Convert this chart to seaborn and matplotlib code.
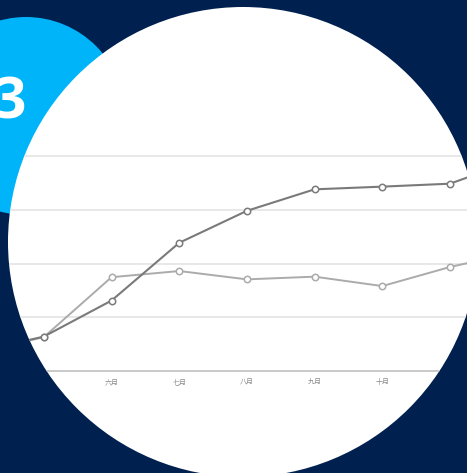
import matplotlib
matplotlib.use("Agg")
import matplotlib.pyplot as plt
from matplotlib.patches import Circle
import seaborn as sns
import pandas as pd

# ---- data ----
months = ["四月", "五月", "六月", "七月", "八月", "九月", "十月", "十一月", "十二月"]
series_dark = [7.1, 12.8, 26.2, 47.7, 59.6, 67.6, 68.6, 69.7, 78.7]
series_light = [6.7, 12.6, 34.9, 37.2, 34.1, 35.1, 31.6, 38.7, 44.3]
y_ticks = [0, 20, 40, 60, 80]
badge_text = "3"

NAVY = "#00204F"
BLUE = "#00B4FA"
DARK = "#7a7a7a"
LIGHT = "#ababab"

W, H = 467, 473
CX, CY, R = 243, 242, 235
fig = plt.figure(figsize=(W / 100, H / 100), dpi=100)
fig.patch.set_facecolor(NAVY)

def px_circle(cx, cy, r, **kw):
    # pixel coords from top-left
    return Circle((cx / 100, (H - cy) / 100), r / 100,
                  transform=fig.dpi_scale_trans, **kw)

blue = px_circle(26, 116, 99, facecolor=BLUE, edgecolor="none", zorder=0)
fig.patches.append(blue)
fig.text(10.5 / W, (H - 118) / H, badge_text, ha="center", va="baseline",
         fontsize=41, fontweight="bold", color="white", family=["Open Sans", "DejaVu Sans"])

white = px_circle(CX, CY, R, facecolor="white", edgecolor="none", zorder=1)
fig.patches.append(white)
clip = px_circle(CX, CY, R, facecolor="none", edgecolor="none")
clip.set_figure(fig)

# axes placed in pixel space
bottom_px, top_px = 371, 156
ax = fig.add_axes([0, (H - bottom_px) / H, 1, (bottom_px - top_px) / H])
ax.patch.set_alpha(0)
ax.set_zorder(2)

df_dark = pd.DataFrame({"x": range(len(months)), "y": series_dark})
df_light = pd.DataFrame({"x": range(len(months)), "y": series_light})

sns.lineplot(data=df_light, x="x", y="y", ax=ax, color=LIGHT, lw=1.4,
             marker="o", markersize=4.6, markerfacecolor="white",
             markeredgecolor=LIGHT, markeredgewidth=1.1)
sns.lineplot(data=df_dark, x="x", y="y", ax=ax, color=DARK, lw=1.5,
             marker="o", markersize=4.6, markerfacecolor="white",
             markeredgecolor=DARK, markeredgewidth=1.1)

spacing = 67.7
x1 = 43.8
ax.set_xticks(range(len(months)))
ax.set_xticklabels(months, family=["Noto Sans CJK SC", "DejaVu Sans"],
                   fontsize=5, color="#8a8a8a")
ax.set_yticks(y_ticks)
ax.set_yticklabels([])
ax.set_xlim(1 - x1 / spacing, 1 + (W - x1) / spacing)
ax.set_ylim(0, 80)
ax.tick_params(axis="both", length=0)
ax.tick_params(axis="x", pad=5)
ax.set_xlabel("")
ax.set_ylabel("")
ax.grid(axis="y", color="#e2e2e2", lw=1.1)
ax.grid(axis="x", visible=False)
for s in ["left", "right", "top"]:
    ax.spines[s].set_visible(False)
ax.spines["bottom"].set_color("#c4c4c4")
ax.spines["bottom"].set_linewidth(1.2)
ax.spines["bottom"].set_clip_path(clip)

for ln in ax.lines:
    ln.set_clip_box(fig.bbox)
    ln.set_clip_path(clip)
for gl in ax.get_ygridlines():
    gl.set_clip_box(fig.bbox)
    gl.set_clip_path(clip)

# tick labels sit on the white disc only; hide those that fall outside it
label_y = 381.5
for i, lbl in enumerate(ax.get_xticklabels()):
    px = x1 + (i - 1) * spacing
    inside = all(((px + dx - CX) ** 2 + (label_y - CY) ** 2) ** 0.5 < R
                 for dx in (-8, 8))
    lbl.set_visible(inside)

fig.savefig("out.png", dpi=100, facecolor=NAVY)
